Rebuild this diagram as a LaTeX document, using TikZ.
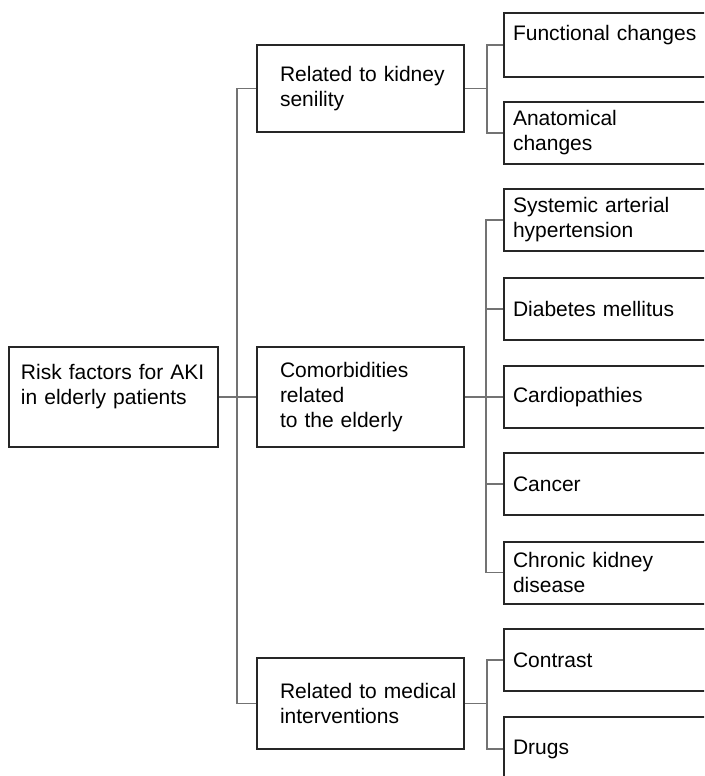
\documentclass[tikz,border=0pt]{standalone}
\usepackage{fontspec}
\setmainfont{Liberation Sans}
\begin{document}
\begin{tikzpicture}[x=1pt,y=-1pt,
	box_node/.style={draw=black!85,line width=2pt,inner xsep=0pt,inner ysep=0pt,align=left,font=\fontsize{21}{25}\selectfont},
	root_node/.style={box_node,text width=209pt,minimum height=100pt,execute at begin node={\leftskip=12pt}},
	mid_node/.style={box_node,text width=207pt,execute at begin node={\leftskip=23pt}},
	leaf_node/.style={box_node,text width=240pt,minimum height=62pt,execute at begin node={\leftskip=9pt}},
	link/.style={draw=black!55,line width=1.6pt}]

		\useasboundingbox (0,0) rectangle (704,776);
		\clip (0,0) rectangle (704,776);

		\node[root_node] (root) at (113.5,397) {Risk factors for AKI\\in elderly patients\\\mbox{}};

		\node[mid_node,minimum height=87pt] (kidney) at (360.5,88.5) {Related to kidney\\senility};
		\node[mid_node,minimum height=100pt] (comorb) at (360.5,397) {Comorbidities\\related\\to the elderly};
		\node[mid_node,minimum height=91pt] (medical) at (360.5,703.5) {Related to medical\\interventions};

		\node[leaf_node,minimum height=64pt] (func) at (624,45) {Functional changes\\\mbox{}};
		\node[leaf_node] (anat) at (624,133) {Anatomical\\changes};
		\node[leaf_node] (sys) at (624,220) {Systemic arterial\\hypertension};
		\node[leaf_node] (diab) at (624,309) {Diabetes mellitus};
		\node[leaf_node] (cardio) at (624,397) {Cardiopathies};
		\node[leaf_node] (cancer) at (624,484) {Cancer};
		\node[leaf_node] (ckd) at (624,572.5) {Chronic kidney\\disease};
		\node[leaf_node] (contrast) at (624,660) {Contrast};
		\node[leaf_node,minimum height=64pt] (drugs) at (624,749) {Drugs};

		\draw[link] (root) -- (comorb);
		\draw[link] (kidney.west) -- ++(-19,0) |- (medical.west);

		\foreach \n in {func,anat}
			\draw[link] (kidney.east) -- ++(22,0) |- (\n.west);
		\foreach \n in {sys,diab,cardio,cancer,ckd}
			\draw[link] (comorb.east) -- ++(21,0) |- (\n.west);
		\foreach \n in {contrast,drugs}
			\draw[link] (medical.east) -- ++(22,0) |- (\n.west);
\end{tikzpicture}
\end{document}
